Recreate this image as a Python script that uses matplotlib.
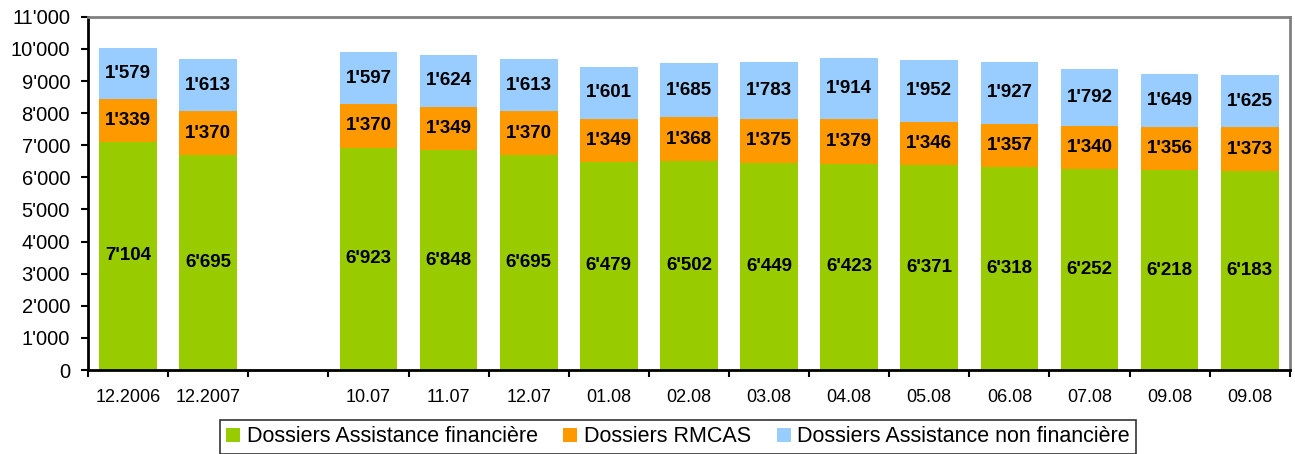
import numpy as np
import matplotlib
matplotlib.use('Agg')
from matplotlib import pyplot as plt

plt.rcParams['font.family'] = ['Liberation Sans', 'DejaVu Sans']

categories = ['12.2006', '12.2007', '', '10.07', '11.07', '12.07', '01.08', '02.08',
              '03.08', '04.08', '05.08', '06.08', '07.08', '09.08', '09.08']
financiere = [7104, 6695, np.nan, 6923, 6848, 6695, 6479, 6502, 6449, 6423, 6371, 6318, 6252, 6218, 6183]
rmcas = [1339, 1370, np.nan, 1370, 1349, 1370, 1349, 1368, 1375, 1379, 1346, 1357, 1340, 1356, 1373]
non_financiere = [1579, 1613, np.nan, 1597, 1624, 1613, 1601, 1685, 1783, 1914, 1952, 1927, 1792, 1649, 1625]

series = [
    ('Dossiers Assistance financière', financiere, '#99CC00'),
    ('Dossiers RMCAS', rmcas, '#FF9900'),
    ('Dossiers Assistance non financière', non_financiere, '#99CCFF'),
]


def fmt(v):
    return '{:,}'.format(int(v)).replace(',', "'")


fig = plt.figure(figsize=(12.95, 4.54), dpi=100)
ax = fig.add_axes([0.068, 0.185, 0.928, 0.778])

x = np.arange(len(categories))
bottom = np.zeros(len(categories))
for name, vals, color in series:
    vals = np.array(vals, dtype=float)
    ax.bar(x, vals, width=0.72, bottom=bottom, color=color, label=name, zorder=2)
    for xi, b, v in zip(x, bottom, vals):
        if np.isnan(v):
            continue
        ax.text(xi, b + v / 2, fmt(v), ha='center', va='center',
                fontsize=13.5, fontweight='bold', color='black', zorder=3)
    bottom = np.where(np.isnan(vals), bottom, bottom + np.nan_to_num(vals))

ax.set_xlim(-0.5, len(categories) - 0.5)
ax.set_ylim(0, 11000)
ax.set_yticks(np.arange(0, 11001, 1000))
ax.set_yticklabels([fmt(v) for v in np.arange(0, 11001, 1000)], fontsize=14.5)
ax.tick_params(axis='y', direction='out', length=5, width=1.5, pad=8)

ax.set_xticks(x)
ax.set_xticklabels(categories, fontsize=13)
ax.set_xticks(np.arange(-0.5, len(categories), 1), minor=True)
ax.tick_params(axis='x', which='major', length=0, pad=14)
ax.tick_params(axis='x', which='minor', direction='out', length=5, width=1.5)

for side in ['left', 'bottom']:
    ax.spines[side].set_color('black')
    ax.spines[side].set_linewidth(2)
for side in ['top', 'right']:
    ax.spines[side].set_color('#808080')
    ax.spines[side].set_linewidth(2)

leg = fig.legend(loc='upper center', bbox_to_anchor=(0.5236, 0.075), ncol=3,
                 fontsize=15.5, frameon=True, fancybox=False, edgecolor='black',
                 handlelength=0.65, handleheight=0.65, handletextpad=0.3,
                 columnspacing=1.2, borderpad=0.3, borderaxespad=0)
leg.get_frame().set_linewidth(1.2)

fig.savefig('out.png', dpi=100)
